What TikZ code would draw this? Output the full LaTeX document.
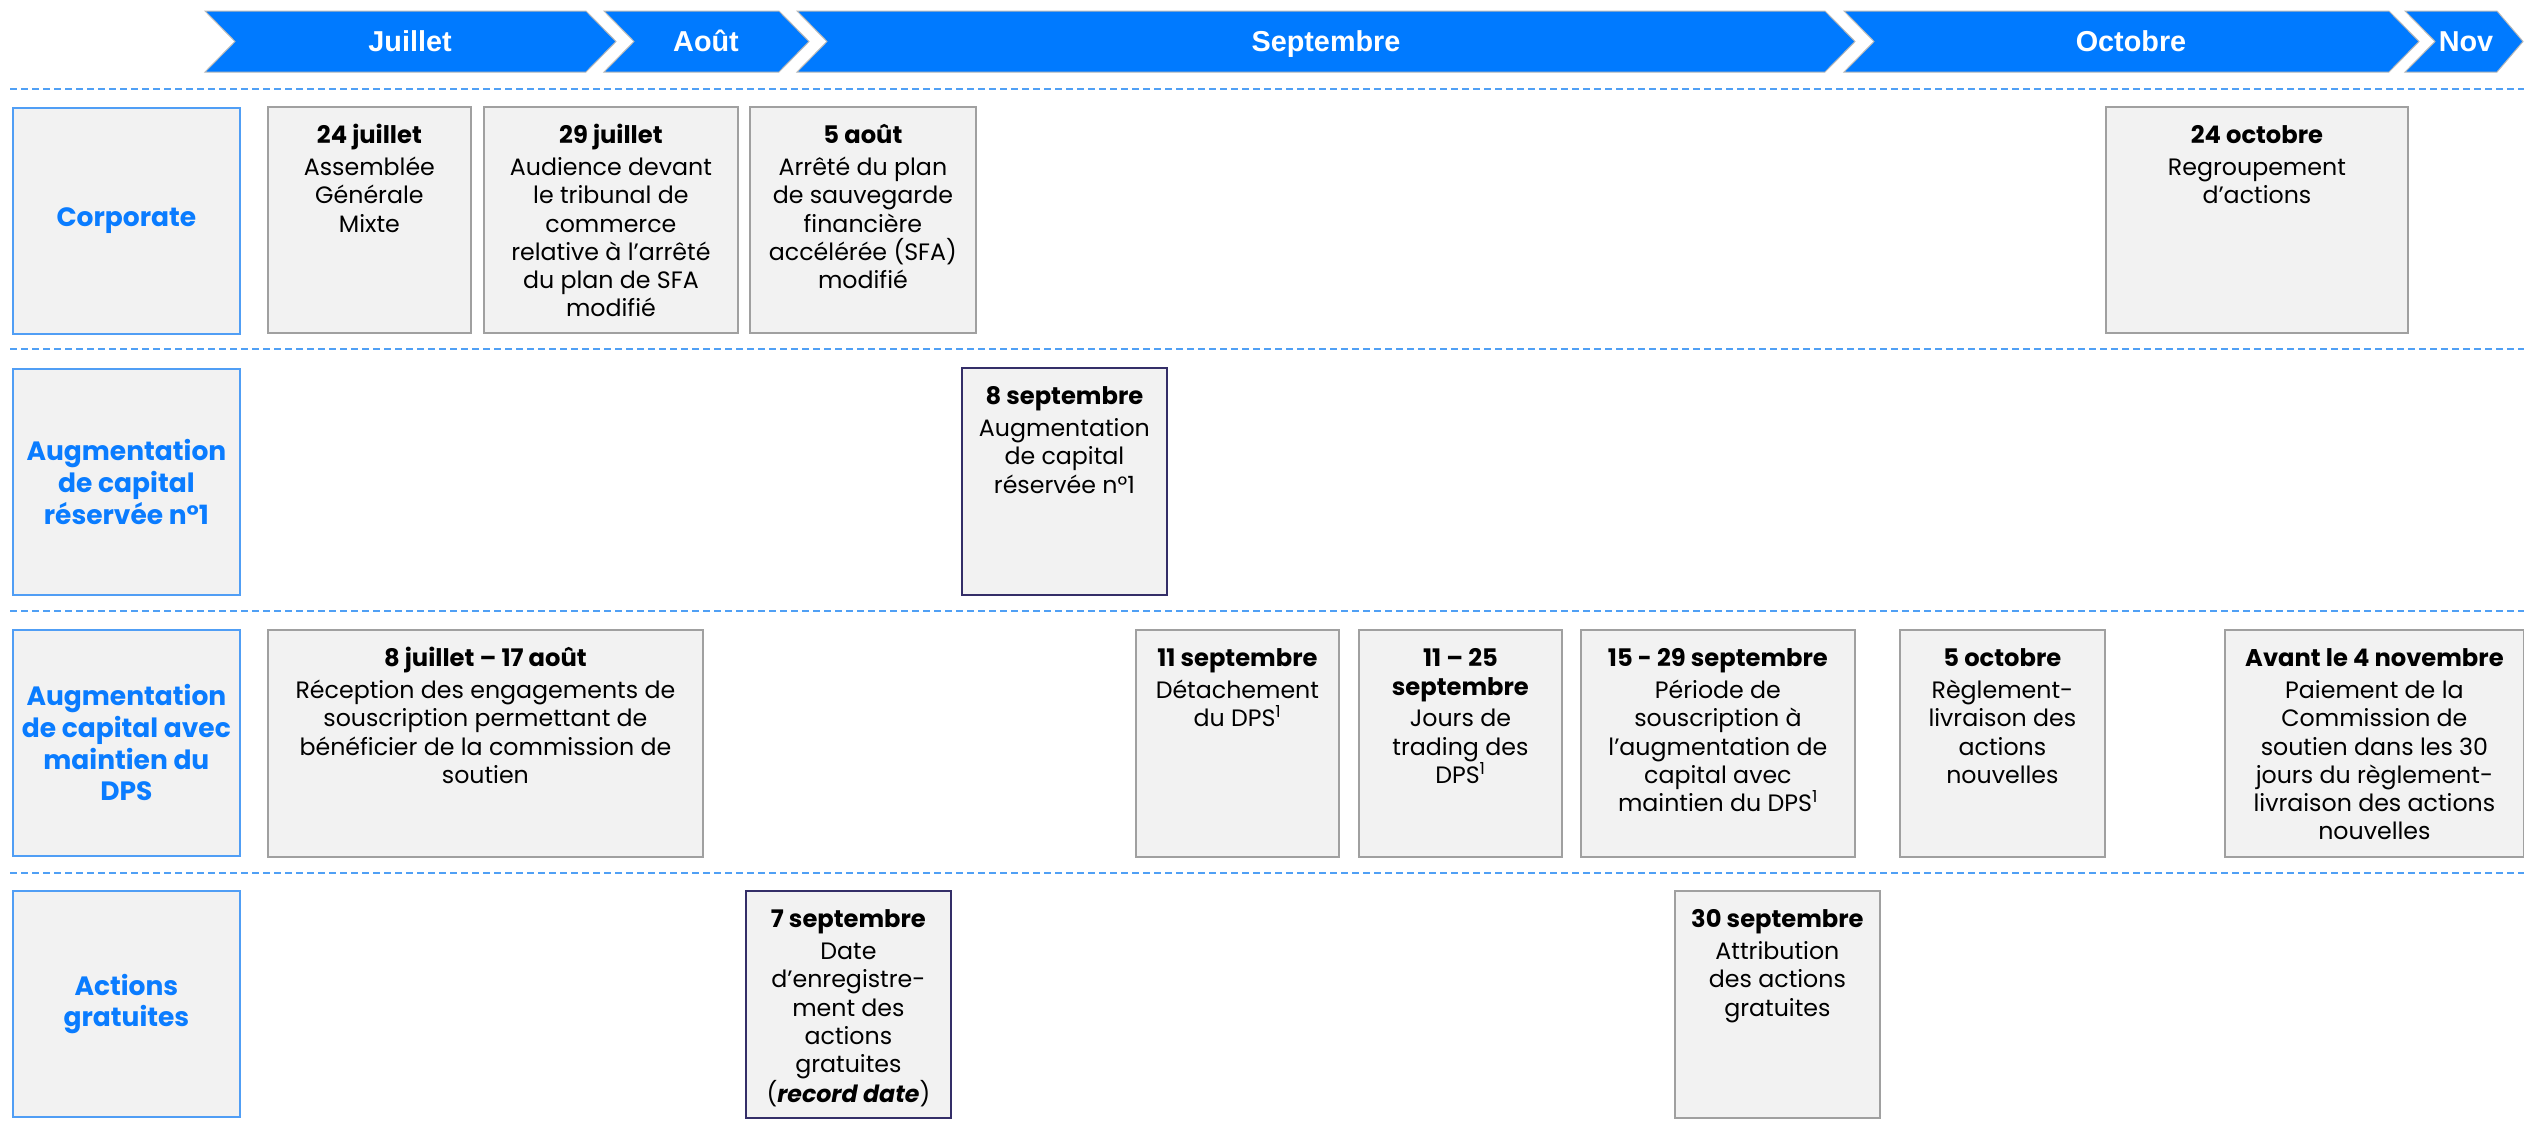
\documentclass[tikz,border=0pt]{standalone}
\usepackage{fontspec}
\setmainfont{Poppins}
\newfontfamily\monthfont{Liberation Sans}
\definecolor{chevblue}{RGB}{0,122,255}
\definecolor{hdrblue}{RGB}{10,124,255}
\definecolor{hdrborder}{RGB}{80,158,245}
\definecolor{boxfill}{RGB}{242,242,242}
\definecolor{boxborder}{RGB}{160,160,160}
\definecolor{navyborder}{RGB}{52,46,104}
\definecolor{dashblue}{RGB}{80,160,245}
\newcommand{\bodyfnt}{\fontsize{23.7}{28.3}\selectfont}
\newcommand{\ttl}[1]{{\fontsize{24.2}{28.3}\selectfont\bfseries #1\rule{0pt}{20pt}}}
\newcommand{\ttlb}[1]{{\fontsize{24.2}{28.3}\selectfont\bfseries #1}}
\newcommand{\dps}{DPS\textsuperscript{1}}
\begin{document}
\begin{tikzpicture}[x=1pt,y=-1pt,
  chev/.style={fill=chevblue,draw=gray!55,line width=1pt},
  monthlbl/.style={text=white,font=\monthfont\fontsize{28.8}{30}\selectfont\bfseries,anchor=base,inner sep=0},
  sepline/.style={dashblue,line width=1.6pt,dash pattern=on 7pt off 4pt},
  hbox/.style={draw=hdrborder,fill=boxfill,line width=1.8pt,anchor=north west,align=center,
    text=hdrblue,font=\fontsize{26.5}{31.7}\selectfont\bfseries,inner sep=0},
  evb/.style={draw=boxborder,fill=boxfill,line width=1.8pt,anchor=north west,inner sep=0},
  evbn/.style={draw=navyborder,fill=boxfill,line width=1.8pt,anchor=north west,inner sep=0},
  evtext/.style={align=center,inner sep=0,font=\bodyfnt,text=black,anchor=north},
]
\useasboundingbox (0,0) rectangle (2524,1127);
% chevrons
\def\T{11}\def\B{72}\def\M{41.5}
\filldraw[chev] (205,\T) -- (586,\T) -- (616,\M) -- (586,\B) -- (205,\B) -- (235,\M) -- cycle;
\filldraw[chev] (604,\T) -- (779,\T) -- (809,\M) -- (779,\B) -- (604,\B) -- (634,\M) -- cycle;
\filldraw[chev] (797,\T) -- (1825,\T) -- (1855,\M) -- (1825,\B) -- (797,\B) -- (827,\M) -- cycle;
\filldraw[chev] (1844,\T) -- (2389,\T) -- (2419,\M) -- (2389,\B) -- (1844,\B) -- (1874,\M) -- cycle;
\filldraw[chev] (2405,\T) -- (2497,\T) -- (2523,\M) -- (2497,\B) -- (2405,\B) -- (2435,\M) -- cycle;
\node[monthlbl] (mjul) at (410,51.5) {Juillet};
\node[monthlbl] (maou) at (706,51.5) {Août};
\node[monthlbl] (msep) at (1326,51.5) {Septembre};
\node[monthlbl] (moct) at (2131,51.5) {Octobre};
\node[monthlbl] (mnov) at (2466,51.5) {Nov};
% separators
\coordinate (s1a) at (10,89);  \coordinate (s1b) at (2524,89);
\coordinate (s2a) at (10,349); \coordinate (s2b) at (2524,349);
\coordinate (s3a) at (10,611); \coordinate (s3b) at (2524,611);
\coordinate (s4a) at (10,873); \coordinate (s4b) at (2524,873);
\draw[sepline] (s1a) -- (s1b);
\draw[sepline] (s2a) -- (s2b);
\draw[sepline] (s3a) -- (s3b);
\draw[sepline] (s4a) -- (s4b);
% headers
\node[hbox,minimum width=227pt,minimum height=226pt] (h1) at (12,107) {Corporate};
\node[hbox,minimum width=227pt,minimum height=226pt] (h2) at (12,368) {Augmentation\\de capital\\réservée n°1};
\node[hbox,minimum width=227pt,minimum height=226pt] (h3) at (12,629) {Augmentation\\de capital avec\\maintien du\\DPS};
\node[hbox,minimum width=227pt,minimum height=226pt] (h4) at (12,890) {Actions\\gratuites};
% row 1
\node[evb,minimum width=203pt,minimum height=226pt] (e1) at (267,106) {};
\node[evtext] (e1t) at ([yshift=-17.5pt]e1.north) {\ttl{24 juillet}\\[3.4pt]Assemblée\\Générale\\Mixte};
\node[evb,minimum width=254pt,minimum height=226pt] (e2) at (483,106) {};
\node[evtext] (e2t) at ([yshift=-17.5pt]e2.north) {\ttl{29 juillet}\\[3.4pt]Audience devant\\le tribunal de\\commerce\\relative à l’arrêté\\du plan de SFA\\modifié};
\node[evb,minimum width=226pt,minimum height=226pt] (e3) at (749,106) {};
\node[evtext] (e3t) at ([yshift=-17.5pt]e3.north) {\ttl{5 août}\\[3.4pt]Arrêté du plan\\de sauvegarde\\financière\\accélérée (SFA)\\modifié};
\node[evb,minimum width=302pt,minimum height=226pt] (e4) at (2105,106) {};
\node[evtext] (e4t) at ([yshift=-17.5pt]e4.north) {\ttl{24 octobre}\\[3.4pt]Regroupement\\d’actions};
% row 2
\node[evbn,minimum width=205pt,minimum height=227pt] (e5) at (961,367) {};
\node[evtext] (e5t) at ([yshift=-17.5pt]e5.north) {\ttl{8 septembre}\\[3.4pt]Augmentation\\de capital\\réservée n°1};
% row 3
\node[evb,minimum width=435pt,minimum height=227pt] (e6) at (267,629) {};
\node[evtext] (e6t) at ([yshift=-17.5pt]e6.north) {\ttl{8 juillet – 17 août}\\[3.4pt]Réception des engagements de\\souscription permettant de\\bénéficier de la commission de\\soutien};
\node[evb,minimum width=203pt,minimum height=227pt] (e7) at (1135,629) {};
\node[evtext] (e7t) at ([yshift=-17.5pt]e7.north) {\ttl{11 septembre}\\[3.4pt]Détachement\\du \dps};
\node[evb,minimum width=203pt,minimum height=227pt] (e8) at (1358,629) {};
\node[evtext] (e8t) at ([yshift=-17.5pt]e8.north) {\ttl{11 – 25}\\\ttlb{septembre}\\[3.4pt]Jours de\\trading des\\\dps};
\node[evb,minimum width=274pt,minimum height=227pt] (e9) at (1580,629) {};
\node[evtext] (e9t) at ([yshift=-17.5pt]e9.north) {\ttl{15 - 29 septembre}\\[3.4pt]Période de\\souscription à\\l’augmentation de\\capital avec\\maintien du \dps};
\node[evb,minimum width=205pt,minimum height=227pt] (e10) at (1899,629) {};
\node[evtext] (e10t) at ([yshift=-17.5pt]e10.north) {\ttl{5 octobre}\\[3.4pt]Règlement-\\livraison des\\actions\\nouvelles};
\node[evb,minimum width=299pt,minimum height=227pt] (e11) at (2224,629) {};
\node[evtext] (e11t) at ([yshift=-17.5pt]e11.north) {\ttl{Avant le 4 novembre}\\[3.4pt]Paiement de la\\Commission de\\soutien dans les 30\\jours du règlement-\\livraison des actions\\nouvelles};
% row 4
\node[evbn,minimum width=205pt,minimum height=227pt] (e12) at (745,890) {};
\node[evtext] (e12t) at ([yshift=-17.5pt]e12.north) {\ttl{7 septembre}\\[3.4pt]Date\\d’enregistre-\\ment des\\actions\\gratuites\\(\textbf{\textit{record date}})};
\node[evb,minimum width=205pt,minimum height=227pt] (e13) at (1674,890) {};
\node[evtext] (e13t) at ([yshift=-17.5pt]e13.north) {\ttl{30 septembre}\\[3.4pt]Attribution\\des actions\\gratuites};
\end{tikzpicture}
\end{document}
